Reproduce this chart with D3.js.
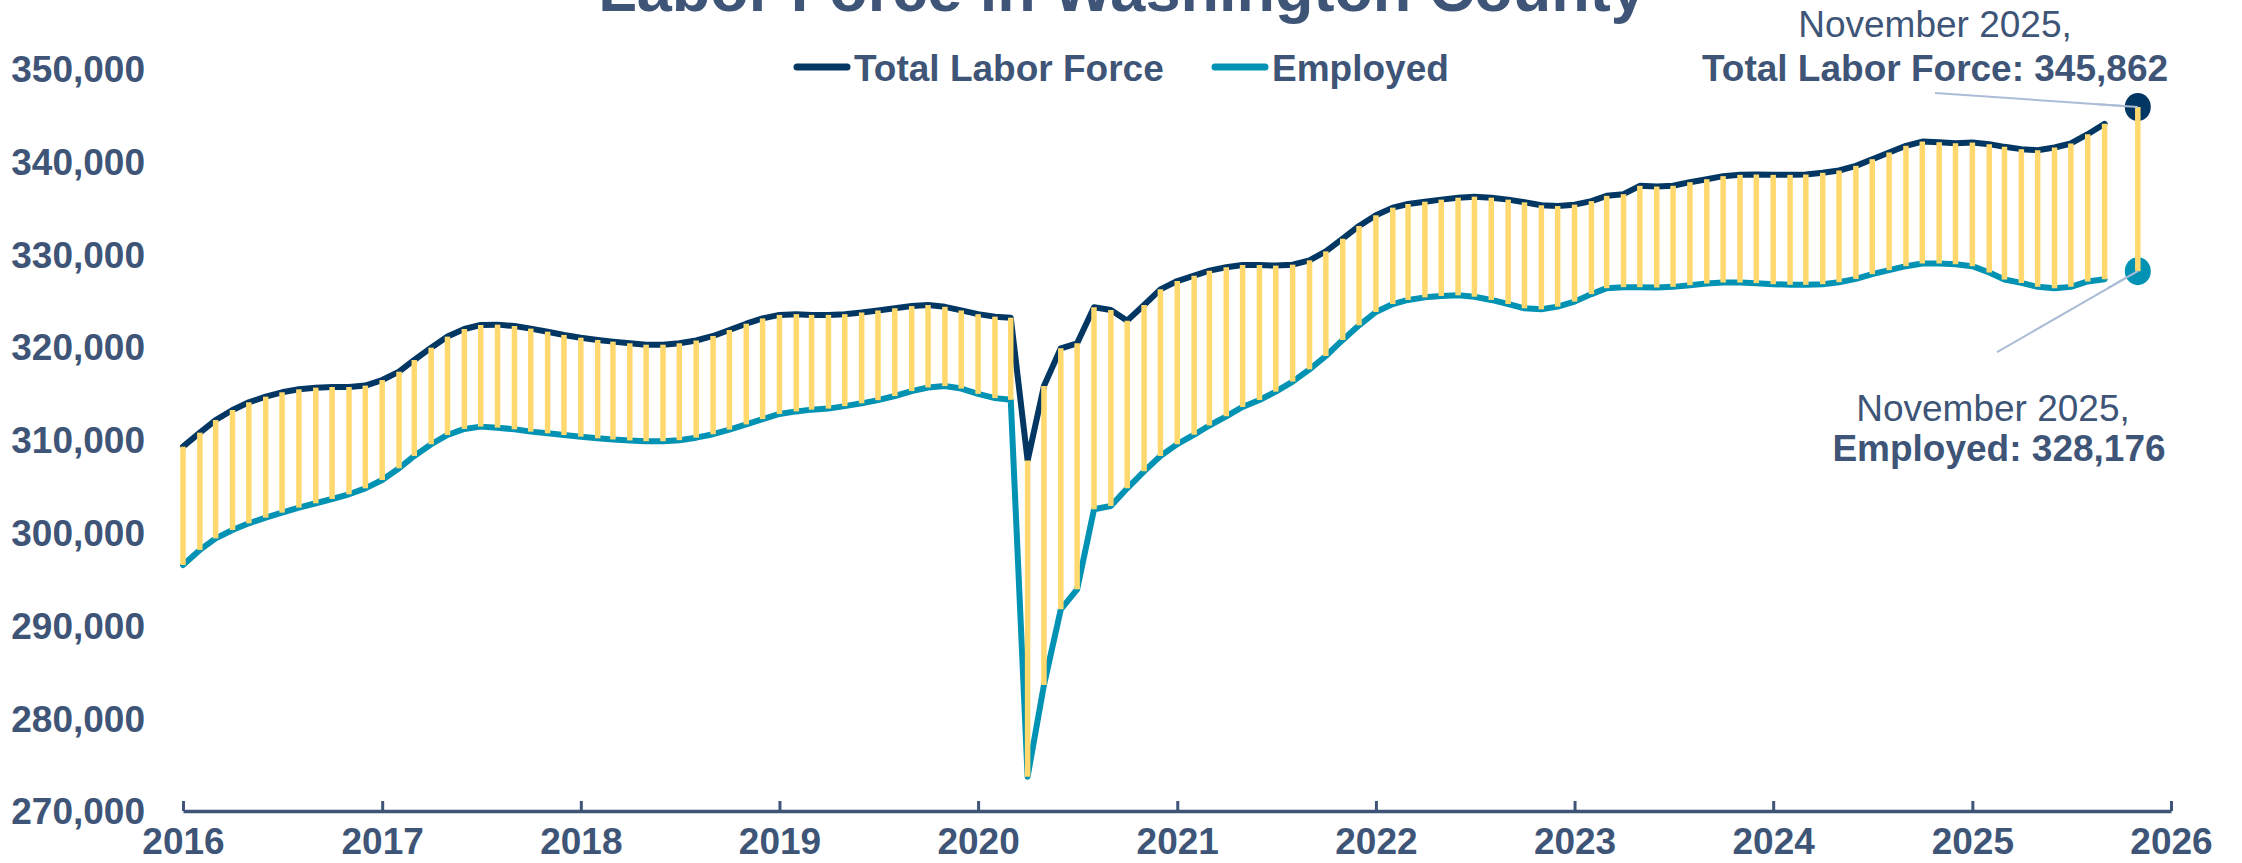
<!DOCTYPE html>
<html>
<head>
<meta charset="utf-8">
<script src="https://cdn.jsdelivr.net/npm/d3@7/dist/d3.min.js"></script>
<style>
  html, body { margin: 0; padding: 0; background: #ffffff; }
  svg { display: block; }
  text { font-family: "Liberation Sans", Arial, "DejaVu Sans", sans-serif; }
</style>
</head>
<body>
<svg id="chart" width="2242" height="863"></svg>
<script>
// ---------------- data ----------------
const chartTitle = "Labor Force in Washington County";
const seriesNames = ["Total Labor Force", "Employed"];
const startMonth = "2016-01"; // first monthly observation (Jan 2016 .. Sep 2025)

const totalLaborForce = [
  309260, 310770, 312130, 313210, 314040, 314650, 315120, 315440, 315620, 315690, 315690, 315840,
  316440, 317340, 318600, 319930, 321120, 321940, 322370, 322410, 322260, 321980, 321650, 321300,
  321000, 320760, 320580, 320400, 320250, 320250, 320400, 320700, 321190, 321830, 322510, 323080,
  323460, 323540, 323460, 323460, 323540, 323720, 323940, 324180, 324410, 324520, 324330, 323940,
  323540, 323270, 323160, 307770, 315790, 319860, 320400, 324280, 323990, 322840, 324530, 326210,
  327110, 327690, 328230, 328590, 328840, 328840, 328770, 328870, 329340, 330310, 331670, 333040,
  334190, 335020, 335410, 335660, 335880, 336090, 336200, 336090, 335880, 335590, 335270, 335190,
  335340, 335720, 336290, 336470, 337370, 337290, 337370, 337760, 338080, 338410, 338550, 338590,
  338550, 338550, 338590, 338770, 339020, 339520, 340240, 340960, 341680, 342140, 342070, 341960,
  342030, 341860, 341570, 341320, 341210, 341500, 341930, 342930, 344050
];
const employed = [
  296510, 298130, 299380, 300280, 301000, 301610, 302150, 302690, 303160, 303620, 304130, 304770,
  305670, 306930, 308260, 309520, 310520, 311170, 311420, 311310, 311130, 310880, 310700, 310520,
  310340, 310160, 310040, 309930, 309850, 309850, 309960, 310230, 310600, 311100, 311660, 312230,
  312790, 313060, 313250, 313360, 313630, 313930, 314270, 314720, 315250, 315640, 315790, 315520,
  314950, 314490, 314310, 273700, 283580, 291730, 293890, 302510, 302870, 304770, 306600, 308250,
  309530, 310550, 311540, 312530, 313540, 314290, 315190, 316270, 317590, 319030, 320760, 322340,
  323770, 324630, 325070, 325350, 325500, 325570, 325420, 325070, 324630, 324170, 324060, 324350,
  324890, 325700, 326340, 326450, 326450, 326410, 326480, 326660, 326840, 326950, 326950, 326880,
  326770, 326700, 326700, 326770, 326980, 327340, 327850, 328280, 328710, 329000, 329000, 328920,
  328710, 328030, 327270, 326910, 326480, 326340, 326480, 327060, 327310
];
// Latest release (October 2025 not published)
const latestMonth = "2025-11";
const latestLabel = "November 2025,";
const latestTotal = 345862;
const latestEmployed = 328176;

const yTicks = [270000, 280000, 290000, 300000, 310000, 320000, 330000, 340000, 350000];
const xTickLabels = ["2016","2017","2018","2019","2020","2021","2022","2023","2024","2025","2026"];

// ---------------- style ----------------
const W = 2242, H = 863;
const C_TOTAL = "#023763";
const C_EMP = "#0293b4";
const C_BAR = "#ffd96e";
const C_TEXT = "#3e5577";
const C_LEADER = "#abbdd6";

const svg = d3.select("#chart");

const parseMonth = d3.timeParse("%Y-%m");
const firstDate = parseMonth(startMonth);
const rows = totalLaborForce.map((v, i) => ({
  date: d3.timeMonth.offset(firstDate, i),
  total: v,
  emp: employed[i]
}));
const latest = { date: parseMonth(latestMonth), total: latestTotal, emp: latestEmployed };

const x = d3.scaleTime()
  .domain([new Date(+xTickLabels[0], 0, 1), new Date(+xTickLabels[xTickLabels.length - 1], 0, 1)])
  .range([183, 2171]);
const y = d3.scaleLinear()
  .domain([yTicks[0], yTicks[yTicks.length - 1]])
  .range([811, 68.6]);

// ---------------- title ----------------
svg.append("text")
  .attr("x", 1122).attr("y", 11)
  .attr("text-anchor", "middle")
  .attr("font-size", 63).attr("font-weight", "bold")
  .attr("fill", C_TEXT)
  .text(chartTitle);

// ---------------- y axis labels ----------------
const fmt = d3.format(",");
svg.append("g").selectAll("text")
  .data(yTicks).join("text")
  .attr("x", 145)
  .attr("y", d => y(d))
  .attr("dy", "0.36em")
  .attr("text-anchor", "end")
  .attr("font-size", 37).attr("font-weight", "bold")
  .attr("fill", C_TEXT)
  .text(d => fmt(d));

// ---------------- x axis ----------------
const tickDates = xTickLabels.map(t => new Date(+t, 0, 1));
const xAxis = d3.axisBottom(x)
  .tickValues(tickDates)
  .tickSize(-10)
  .tickSizeOuter(0)
  .tickFormat((d, i) => xTickLabels[i]);
const gx = svg.append("g").attr("transform", `translate(0,${y(yTicks[0])})`).call(xAxis);
gx.select(".domain").attr("stroke", C_TEXT).attr("stroke-width", 3.5);
gx.selectAll(".tick line").attr("stroke", C_TEXT).attr("stroke-width", 3);
gx.selectAll(".tick text")
  .attr("y", 17).attr("dy", "0.71em")
  .attr("font-size", 37).attr("font-weight", "bold")
  .attr("font-family", '"Liberation Sans", Arial, sans-serif')
  .attr("fill", C_TEXT);

// ---------------- lines ----------------
const lineTotal = d3.line().x(d => x(d.date)).y(d => y(d.total)).curve(d3.curveLinear);
const lineEmp = d3.line().x(d => x(d.date)).y(d => y(d.emp)).curve(d3.curveLinear);

svg.append("path").datum(rows)
  .attr("d", lineEmp).attr("fill", "none")
  .attr("stroke", C_EMP).attr("stroke-width", 6)
  .attr("stroke-linejoin", "round").attr("stroke-linecap", "round");
svg.append("path").datum(rows)
  .attr("d", lineTotal).attr("fill", "none")
  .attr("stroke", C_TOTAL).attr("stroke-width", 6)
  .attr("stroke-linejoin", "round").attr("stroke-linecap", "round");

// ---------------- high-low bars ----------------
svg.append("g").selectAll("line")
  .data(rows).join("line")
  .attr("x1", d => x(d.date)).attr("x2", d => x(d.date))
  .attr("y1", d => y(d.total)).attr("y2", d => y(d.emp))
  .attr("stroke", C_BAR).attr("stroke-width", 5.5);

// ---------------- latest point ----------------
svg.append("line")
  .attr("x1", 1935).attr("y1", y(latest.total) - 14)
  .attr("x2", x(latest.date)).attr("y2", y(latest.total))
  .attr("stroke", C_LEADER).attr("stroke-width", 2);
svg.append("line")
  .attr("x1", 1997).attr("y1", y(latest.emp) + 81)
  .attr("x2", x(latest.date)).attr("y2", y(latest.emp))
  .attr("stroke", C_LEADER).attr("stroke-width", 2);

svg.append("ellipse")
  .attr("cx", x(latest.date)).attr("cy", y(latest.total)).attr("rx", 13).attr("ry", 14)
  .attr("fill", C_TOTAL);
svg.append("ellipse")
  .attr("cx", x(latest.date)).attr("cy", y(latest.emp)).attr("rx", 13).attr("ry", 14)
  .attr("fill", C_EMP);
svg.append("line")
  .attr("x1", x(latest.date)).attr("x2", x(latest.date))
  .attr("y1", y(latest.total)).attr("y2", y(latest.emp))
  .attr("stroke", C_BAR).attr("stroke-width", 5.5);

// leader line ends drawn over the markers
svg.append("line")
  .attr("x1", x(latest.date) - 40).attr("y1", y(latest.total) - 2.8)
  .attr("x2", x(latest.date)).attr("y2", y(latest.total))
  .attr("stroke", C_LEADER).attr("stroke-width", 2);
svg.append("line")
  .attr("x1", x(latest.date) - 30).attr("y1", y(latest.emp) + 17)
  .attr("x2", x(latest.date)).attr("y2", y(latest.emp))
  .attr("stroke", C_LEADER).attr("stroke-width", 2);

// annotations
const ann1 = svg.append("text").attr("text-anchor", "middle").attr("fill", C_TEXT).attr("font-size", 37);
ann1.append("tspan").attr("x", 1935).attr("y", 37).text(latestLabel);
ann1.append("tspan").attr("x", 1935).attr("y", 81).attr("font-weight", "bold")
  .text(`${seriesNames[0]}: ${fmt(latest.total)}`);
const ann2 = svg.append("text").attr("text-anchor", "middle").attr("fill", C_TEXT).attr("font-size", 37);
ann2.append("tspan").attr("x", 1993).attr("y", 421).text(latestLabel);
ann2.append("tspan").attr("x", 1999).attr("y", 461).attr("font-weight", "bold")
  .text(`${seriesNames[1]}: ${fmt(latest.emp)}`);

// ---------------- legend ----------------
const legendItems = [
  { name: seriesNames[0], color: C_TOTAL, x: 797 },
  { name: seriesNames[1], color: C_EMP, x: 1215 }
];
const lg = svg.append("g").selectAll("g").data(legendItems).join("g")
  .attr("transform", d => `translate(${d.x},67)`);
lg.append("line").attr("x1", 0).attr("x2", 50).attr("y1", 0).attr("y2", 0)
  .attr("stroke", d => d.color).attr("stroke-width", 7).attr("stroke-linecap", "round");
lg.append("text").attr("x", 57).attr("y", 14)
  .attr("font-size", 37).attr("font-weight", "bold").attr("fill", C_TEXT)
  .text(d => d.name);
</script>
</body>
</html>
